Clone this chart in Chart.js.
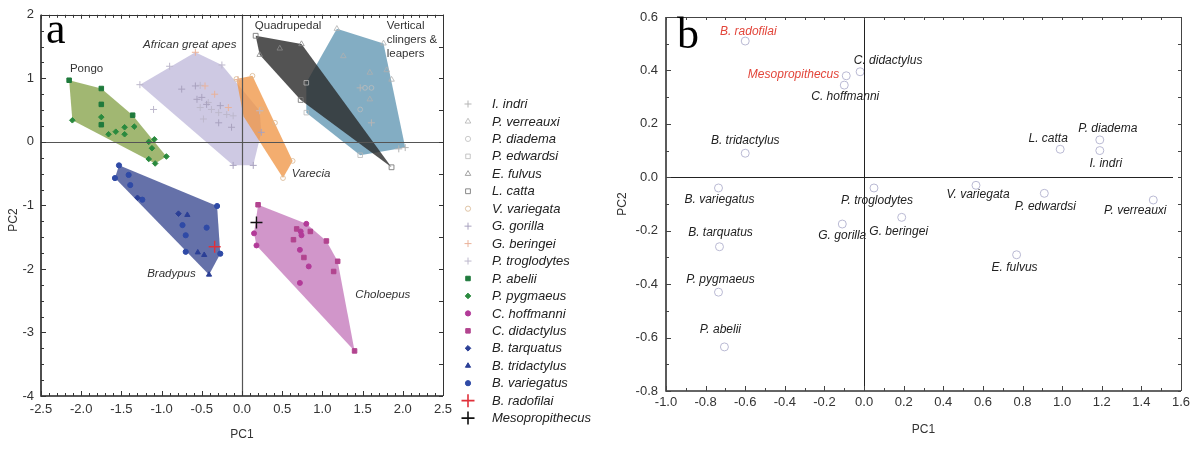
<!DOCTYPE html>
<html><head><meta charset="utf-8">
<script src="https://cdn.jsdelivr.net/npm/chart.js@4.4.1/dist/chart.umd.min.js"></script>
<style>
html,body{margin:0;padding:0;background:#fff;width:1198px;height:449px;overflow:hidden}
#ca{position:absolute;left:0;top:0}
#cb{position:absolute;left:608px;top:0}
</style></head><body>
<canvas id="ca" width="620" height="449"></canvas>
<canvas id="cb" width="590" height="449"></canvas>
<script>
// ================= Panel a : PCA scores (PC1, PC2) =================
const I_indri        = [[1.47,0.85],[1.61,0.30],[1.95,-0.11],[2.03,-0.09]];
const P_verreauxi    = [[1.18,1.78],[1.76,1.55],[1.26,1.35],[1.59,1.09],[1.80,1.13],[1.86,0.98],[1.59,0.67]];
const P_diadema      = [[1.53,0.85],[1.61,0.85],[1.47,0.51]];
const P_edwardsi     = [[0.80,0.46],[1.47,-0.21],[0.80,0.93]];
const E_fulvus       = [[0.74,1.54],[0.47,1.47],[0.22,1.37]];
const L_catta        = [[0.17,1.67],[1.86,-0.40],[0.73,0.66]];
const V_variegata    = [[-0.07,0.99],[0.13,1.04],[0.63,-0.30],[0.51,-0.57],[0.41,0.30],[0.24,0.51]];
const G_gorilla      = [[-0.75,0.83],[-0.58,0.88],[-0.56,0.67],[-0.50,0.70],[-0.44,0.59],[-0.27,0.57],[-0.29,0.30],[-0.13,0.23],[-0.11,-0.37],[0.14,-0.37],[0.24,0.15]];
const G_beringei     = [[-0.58,1.41],[-0.05,0.98],[-0.46,0.88],[-0.34,0.75],[-0.17,0.54]];
const P_troglodytes  = [[-1.27,0.90],[-0.90,1.19],[-0.25,1.21],[-1.10,0.51],[-0.52,0.89],[-0.42,0.62],[-0.52,0.54],[-0.38,0.51],[-0.48,0.36],[-0.19,0.43],[-0.11,0.41],[-0.29,0.46],[0.22,0.49]];
const P_abelii       = [[-2.15,0.97],[-1.75,0.84],[-1.36,0.42],[-1.75,0.59],[-1.75,0.27]];
const P_pygmaeus     = [[-2.11,0.34],[-1.75,0.39],[-1.66,0.12],[-1.57,0.16],[-1.46,0.23],[-1.46,0.12],[-1.34,0.24],[-1.16,0.00],[-1.09,0.04],[-1.12,-0.10],[-1.16,-0.27],[-1.08,-0.34],[-0.94,-0.23]];
const C_hoffmanni    = [[0.80,-1.29],[0.73,-1.41],[0.74,-1.47],[0.15,-1.44],[0.18,-1.63],[0.72,-1.70],[0.83,-1.96],[0.72,-2.22]];
const C_didactylus   = [[0.20,-0.99],[0.68,-1.37],[0.85,-1.41],[0.64,-1.54],[1.05,-1.56],[1.19,-1.88],[1.14,-2.04],[0.77,-1.82],[1.40,-3.29]];
const B_tarquatus    = [[-1.30,-0.88],[-0.79,-1.13]];
const B_tridactylus  = [[-0.68,-1.15],[-0.55,-1.74],[-0.47,-1.78],[-0.41,-2.09]];
const B_variegatus   = [[-1.53,-0.37],[-1.58,-0.57],[-1.41,-0.52],[-1.39,-0.68],[-1.24,-0.91],[-0.31,-1.01],[-0.74,-1.31],[-0.44,-1.35],[-0.70,-1.47],[-0.70,-1.73],[-0.27,-1.76]];
const B_radofilai    = [[-0.34,-1.65]];
const Mesopropithecus = [[0.18,-1.27]];

// convex hulls (vertex lists)
const hullPongo   = [[-2.15,0.97],[-1.75,0.84],[-1.36,0.42],[-0.94,-0.23],[-1.08,-0.34],[-2.11,0.34]];
const hullApes    = [[-1.27,0.90],[-0.58,1.41],[-0.25,1.21],[0.22,0.49],[0.24,0.15],[0.14,-0.37],[-0.11,-0.37]];
const hullVarecia = [[-0.07,0.99],[0.13,1.04],[0.63,-0.30],[0.51,-0.57],[0.02,0.40]];
const hullQuad    = [[0.17,1.67],[0.74,1.54],[1.86,-0.40],[0.73,0.66],[0.22,1.37]];
const hullVCL     = [[1.18,1.78],[1.76,1.55],[2.03,-0.09],[1.47,-0.21],[0.80,0.46],[0.80,0.93]];
const hullBrady   = [[-1.53,-0.37],[-0.31,-1.01],[-0.27,-1.76],[-0.41,-2.09],[-1.58,-0.57]];
const hullCholo   = [[0.20,-0.99],[0.80,-1.29],[1.05,-1.56],[1.19,-1.88],[1.40,-3.29],[0.18,-1.63],[0.15,-1.44]];

const aXTicks = {min:-2.5, max:2.5, step:0.5};
const aYTicks = {min:-4, max:2, step:1};

// ================= Panel b : species means =================
const bNames = ['B. radofilai','Mesopropithecus','C. hoffmanni','C. didactylus','B. tridactylus','B. variegatus','P. troglodytes','G. gorilla','G. beringei','B. tarquatus','P. pygmaeus','P. abelii','E. fulvus','L. catta','P. diadema','I. indri','V. variegata','P. edwardsi','P. verreauxi'];
const bPC1   = [-0.60,-0.09,-0.10,-0.02,-0.60,-0.735,0.05,-0.11,0.19,-0.73,-0.735,-0.705,0.77,0.99,1.19,1.19,0.565,0.91,1.46];
const bPC2   = [0.51,0.38,0.345,0.395,0.09,-0.04,-0.04,-0.175,-0.15,-0.26,-0.43,-0.635,-0.29,0.105,0.14,0.10,-0.03,-0.06,-0.085];
const bFossil = ['B. radofilai','Mesopropithecus'];
const bXTicks = {min:-1.0, max:1.6, step:0.2};
const bYTicks = {min:-0.8, max:0.6, step:0.2};

// ---------- styling / layout (not data) ----------
const FONT = '"Liberation Sans", Arial, Helvetica, sans-serif';
Chart.defaults.font.family = FONT;
Chart.defaults.font.size = 12;
Chart.defaults.color = '#333';

const aStyles = [
  // label, data, pointStyle, border, background, radius, borderWidth
  ['I. indri', I_indri, 'cross', '#b5b5b5', 'rgba(0,0,0,0)', 3.5, 1],
  ['P. verreauxi', P_verreauxi, 'triangle', '#b0b0b0', 'rgba(0,0,0,0)', 3.2, 0.8],
  ['P. diadema', P_diadema, 'circle', '#bdbdbd', 'rgba(0,0,0,0)', 2.4, 0.8],
  ['P. edwardsi', P_edwardsi, 'rect', '#b8b8b8', 'rgba(0,0,0,0)', 3.2, 0.8],
  ['E. fulvus', E_fulvus, 'triangle', '#8c8c8c', 'rgba(0,0,0,0)', 3.2, 0.8],
  ['L. catta', L_catta, 'rect', '#7c7c7c', 'rgba(0,0,0,0)', 3.4, 0.9],
  ['V. variegata', V_variegata, 'circle', '#d8b690', 'rgba(0,0,0,0)', 2.4, 0.8],
  ['G. gorilla', G_gorilla, 'cross', '#a9a2bf', 'rgba(0,0,0,0)', 3.5, 1],
  ['G. beringei', G_beringei, 'cross', '#eab29a', 'rgba(0,0,0,0)', 3.5, 1],
  ['P. troglodytes', P_troglodytes, 'cross', '#bdb8cc', 'rgba(0,0,0,0)', 3.5, 1],
  ['P. abelii', P_abelii, 'rect', '#1f7a3c', '#1f7a3c', 3.2, 1],
  ['P. pygmaeus', P_pygmaeus, 'rectRot', '#2a8a3e', '#2a8a3e', 2.8, 1],
  ['C. hoffmanni', C_hoffmanni, 'circle', '#b23a98', '#b23a98', 2.5, 1],
  ['C. didactylus', C_didactylus, 'rect', '#b2448f', '#b2448f', 3.2, 1],
  ['B. tarquatus', B_tarquatus, 'rectRot', '#2b3f96', '#2b3f96', 2.8, 1],
  ['B. tridactylus', B_tridactylus, 'triangle', '#2b3f96', '#2b3f96', 3.0, 1],
  ['B. variegatus', B_variegatus, 'circle', '#2f4aa6', '#2f4aa6', 2.6, 1],
  ['B. radofilai', B_radofilai, 'cross', '#e0303a', 'rgba(0,0,0,0)', 6, 1.4],
  ['Mesopropithecus', Mesopropithecus, 'cross', '#111111', 'rgba(0,0,0,0)', 6, 1.4]
];
const hullStyles = [
  [hullVCL, 'rgba(90,145,175,0.75)', 15],
  [hullQuad, 'rgba(40,40,40,0.80)', 14],
  [hullApes, 'rgba(185,178,215,0.70)', 13],
  [hullVarecia, 'rgba(240,150,70,0.78)', 12],
  [hullPongo, 'rgba(125,155,60,0.72)', 11],
  [hullBrady, 'rgba(50,65,140,0.75)', 11],
  [hullCholo, 'rgba(190,105,180,0.70)', 11]
];
const aGroupLabels = [
  ['Pongo', -2.14, 1.15, false, 'left'],
  ['African great apes', -0.65, 1.52, true, 'center'],
  ['Quadrupedal', 0.16, 1.82, false, 'left'],
  ['Vertical', 1.80, 1.82, false, 'left'],
  ['clingers &', 1.80, 1.60, false, 'left'],
  ['leapers', 1.80, 1.38, false, 'left'],
  ['Varecia', 0.62, -0.51, true, 'left'],
  ['Bradypus', -1.18, -2.07, true, 'left'],
  ['Choloepus', 1.41, -2.40, true, 'left']
];
const bLabelDX = [3,-7,1,28,0,1,3,0,-3,1,2,-4,-2,-12,8,6,2,1,-18];
const bLabelDY = [-9,-1,12,-11,-13,12,13,12,14,-14,-13,-17,13,-11,-11,13,9,13,11];

const toXY = arr => arr.map(p => ({x:p[0], y:p[1]}));
const fmt1 = v => (Math.abs(v) < 1e-9 ? '0.0' : Number(v).toFixed(1));

function marker(ctx, style, x, y, r, fill, stroke, lw){
  ctx.save();
  ctx.fillStyle = fill; ctx.strokeStyle = stroke; ctx.lineWidth = lw;
  ctx.beginPath();
  if (style === 'circle') ctx.arc(x, y, r, 0, Math.PI*2);
  else if (style === 'rect') { const s = r*Math.SQRT1_2; ctx.rect(x-s, y-s, 2*s, 2*s); }
  else if (style === 'rectRot') { ctx.moveTo(x,y-r); ctx.lineTo(x+r,y); ctx.lineTo(x,y+r); ctx.lineTo(x-r,y); ctx.closePath(); }
  else if (style === 'triangle') { ctx.moveTo(x,y-r); ctx.lineTo(x+r*0.866,y+r*0.5); ctx.lineTo(x-r*0.866,y+r*0.5); ctx.closePath(); }
  else if (style === 'cross') { ctx.moveTo(x,y-r); ctx.lineTo(x,y+r); ctx.moveTo(x-r,y); ctx.lineTo(x+r,y); }
  if (style !== 'cross') ctx.fill();
  ctx.stroke();
  ctx.restore();
}

// Frame, zero lines and inward ticks
const frame = {
  id: 'frame',
  afterDatasetsDraw(chart, args, o) {
    const {ctx, chartArea: a, scales: {x, y}} = chart;
    ctx.save();
    ctx.strokeStyle = o.zeroColor; ctx.lineWidth = o.zeroWidth;
    const x0 = Math.round(x.getPixelForValue(0)) + 0.5;
    const y0 = Math.round(y.getPixelForValue(0)) + 0.5;
    ctx.beginPath();
    ctx.moveTo(x0, a.top); ctx.lineTo(x0, a.bottom - o.vGap);
    ctx.moveTo(a.left, y0); ctx.lineTo(a.right - o.hGap, y0);
    ctx.stroke();
    ctx.strokeStyle = o.thinColor; ctx.lineWidth = 1;
    ctx.beginPath();
    ctx.moveTo(a.left, Math.round(a.top)+0.5); ctx.lineTo(a.right, Math.round(a.top)+0.5);
    ctx.moveTo(Math.round(a.right)+0.5, a.top); ctx.lineTo(Math.round(a.right)+0.5, a.bottom);
    ctx.stroke();
    ctx.strokeStyle = o.axisColor; ctx.lineWidth = 1.6;
    ctx.beginPath();
    ctx.moveTo(a.left, a.top); ctx.lineTo(a.left, a.bottom); ctx.lineTo(a.right, a.bottom);
    ctx.stroke();
    ctx.lineWidth = 1; ctx.strokeStyle = o.tickColor;
    o.ticks.forEach(([ax, edge, step, len]) => {
      const s = ax === 'x' ? x : y;
      const n = Math.round((s.max - s.min) / step);
      for (let i = 0; i <= n; i++) {
        const p = Math.round(s.getPixelForValue(s.min + i*step)) + 0.5;
        ctx.beginPath();
        if (edge === 'bottom') { ctx.moveTo(p, a.bottom); ctx.lineTo(p, a.bottom - len); }
        if (edge === 'top')    { ctx.moveTo(p, a.top); ctx.lineTo(p, a.top + len); }
        if (edge === 'left')   { ctx.moveTo(a.left, p); ctx.lineTo(a.left + len, p); }
        if (edge === 'right')  { ctx.moveTo(a.right, p); ctx.lineTo(a.right - len, p); }
        ctx.stroke();
      }
    });
    ctx.restore();
  }
};

// Panel a annotations: group labels, legend, y title and panel letter
const annotA = {
  id: 'annotA',
  afterDraw(chart) {
    const {ctx, scales: {x, y}} = chart;
    ctx.save();
    ctx.fillStyle = '#333'; ctx.textBaseline = 'middle';
    aGroupLabels.forEach(([t, vx, vy, it, al]) => {
      ctx.font = (it ? 'italic ' : '') + '11.5px ' + FONT;
      ctx.textAlign = al;
      ctx.fillText(t, x.getPixelForValue(vx), y.getPixelForValue(vy));
    });
    let i = 0;
    chart.data.datasets.forEach(ds => {
      if (ds.isHull) return;
      const ly = 104 + i * 17.45;
      const big = ds.pointStyle === 'cross' && ds.pointRadius > 5;
      marker(ctx, ds.pointStyle, 468, ly, big ? 6.5 : Math.max(ds.pointRadius, 2.6), ds.backgroundColor, ds.borderColor, big ? 1.6 : ds.borderWidth);
      ctx.fillStyle = '#222'; ctx.font = 'italic 13px ' + FONT; ctx.textAlign = 'left';
      ctx.fillText(ds.label, 492, ly + 0.5);
      i++;
    });
    // y-axis title
    ctx.save();
    ctx.translate(14, 220); ctx.rotate(-Math.PI/2);
    ctx.fillStyle = '#333'; ctx.font = '12px ' + FONT; ctx.textAlign = 'center';
    ctx.fillText('PC2', 0, 0);
    ctx.restore();
    ctx.fillStyle = '#000'; ctx.font = '44px "Liberation Serif", "Times New Roman", serif';
    ctx.textAlign = 'left'; ctx.textBaseline = 'alphabetic';
    ctx.fillText('a', 46, 43);
    ctx.restore();
  }
};

const aDatasets = [];
aStyles.forEach(([label, data, ps, bc, bg, r, bw]) => {
  aDatasets.push({label, data: toXY(data), pointStyle: ps, borderColor: bc, backgroundColor: bg,
    pointRadius: r, borderWidth: bw, pointBorderWidth: bw, order: 0});
});
hullStyles.forEach(([h, col, ord]) => {
  aDatasets.push({label: '', isHull: true, data: toXY(h), showLine: true, fill: 'shape',
    backgroundColor: col, borderColor: 'rgba(0,0,0,0)', borderWidth: 1, pointRadius: 0, order: ord});
});

new Chart(document.getElementById('ca'), {
  type: 'scatter',
  data: {datasets: aDatasets},
  options: {
    responsive: false, animation: false, events: [],
    layout: {padding: {left: 0, top: 11, right: 177, bottom: 0}},
    plugins: {
      legend: {display: false}, tooltip: {enabled: false},
      frame: {zeroColor: '#555', zeroWidth: 1.2, thinColor: '#333', axisColor: '#222', tickColor: '#333', vGap: 0, hGap: 0,
        ticks: [['x','bottom',0.5,5],['x','bottom',0.1,3],['x','top',0.1,3],['x','top',0.5,4],
                ['y','left',1,5],['y','left',0.25,3],['y','right',0.5,4]]}
    },
    scales: {
      x: {type: 'linear', min: aXTicks.min, max: aXTicks.max,
        afterFit(s) { s.height = 53; },
        grid: {display: false, drawTicks: false}, border: {display: false},
        ticks: {stepSize: aXTicks.step, padding: 6, color: '#333', font: {size: 13}, autoSkip: false, callback: v => fmt1(v)},
        title: {display: true, text: 'PC1', color: '#333', font: {size: 12}, padding: {top: 0, bottom: 7}}},
      y: {type: 'linear', min: aYTicks.min, max: aYTicks.max,
        afterFit(s) { s.width = 41; },
        grid: {display: false, drawTicks: false}, border: {display: false},
        ticks: {stepSize: aYTicks.step, padding: 7, color: '#333', font: {size: 13}, autoSkip: false, callback: v => String(Math.round(v))},
        title: {display: false}}
    }
  },
  plugins: [frame, annotA]
});

// Panel b
const annotB = {
  id: 'annotB',
  afterDraw(chart) {
    const {ctx, scales: {x, y}} = chart;
    ctx.save();
    ctx.textBaseline = 'middle';
    ctx.font = 'italic 12px ' + FONT;
    bNames.forEach((n, i) => {
      const px = x.getPixelForValue(bPC1[i]) + bLabelDX[i];
      const py = y.getPixelForValue(bPC2[i]) + bLabelDY[i];
      ctx.fillStyle = bFossil.includes(n) ? '#e2453a' : '#222';
      ctx.textAlign = n === 'Mesopropithecus' ? 'right' : 'center';
      ctx.fillText(n, px, py);
    });
    ctx.fillStyle = '#000'; ctx.font = '44px "Liberation Serif", "Times New Roman", serif';
    ctx.textAlign = 'left'; ctx.textBaseline = 'alphabetic';
    ctx.fillText('b', 69, 48);
    ctx.restore();
  }
};

new Chart(document.getElementById('cb'), {
  type: 'scatter',
  data: {datasets: [{label: 'species', data: bPC1.map((v, i) => ({x: v, y: bPC2[i]})),
    pointStyle: 'circle', pointRadius: 4, borderColor: '#b9b9d3', backgroundColor: 'rgba(255,255,255,0)', borderWidth: 1}]},
  options: {
    responsive: false, animation: false, events: [],
    layout: {padding: {left: 0, top: 17, right: 17, bottom: 0}},
    plugins: {
      legend: {display: false}, tooltip: {enabled: false},
      frame: {zeroColor: '#222', zeroWidth: 1, thinColor: '#444', axisColor: '#333', tickColor: '#444', vGap: 5, hGap: 8,
        ticks: [['x','bottom',0.2,5],['x','bottom',0.1,3],['x','top',0.1,3],
                ['y','left',0.2,5],['y','left',0.1,3],['y','right',0.1,3]]}
    },
    scales: {
      x: {type: 'linear', min: bXTicks.min, max: bXTicks.max,
        afterFit(s) { s.height = 58; },
        grid: {display: false, drawTicks: false}, border: {display: false},
        ticks: {stepSize: bXTicks.step, padding: 4, color: '#333', font: {size: 13}, autoSkip: false, callback: v => fmt1(v)},
        title: {display: true, text: 'PC1', color: '#333', font: {size: 12}, padding: {top: 0, bottom: 12}}},
      y: {type: 'linear', min: bYTicks.min, max: bYTicks.max,
        afterFit(s) { s.width = 58; },
        grid: {display: false, drawTicks: false}, border: {display: false},
        ticks: {stepSize: bYTicks.step, padding: 8, color: '#333', font: {size: 13}, autoSkip: false, callback: v => fmt1(v)},
        title: {display: true, text: 'PC2', color: '#333', font: {size: 12}, padding: {top: 7, bottom: 0}}}
    }
  },
  plugins: [frame, annotB]
});
</script>
</body></html>
